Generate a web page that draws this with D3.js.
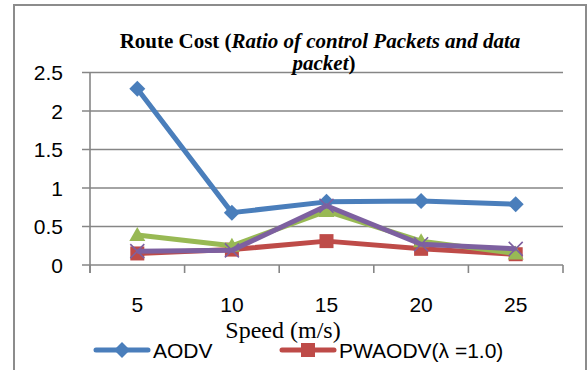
<!DOCTYPE html>
<html>
<head>
<meta charset="utf-8">
<script src="https://cdn.jsdelivr.net/npm/d3@7"></script>
<style>
  html, body { margin: 0; padding: 0; background: #fff; }
  svg { display: block; }
</style>
</head>
<body>
<svg id="chart" width="587" height="370"></svg>
<script>
// Route cost against node speed
const speeds = ["5", "10", "15", "20", "25"];
const aodv = [2.29, 0.68, 0.82, 0.83, 0.79];
const pwaodv10 = [0.15, 0.20, 0.31, 0.21, 0.14];
const seriesGreen = [0.39, 0.25, 0.70, 0.31, 0.15];
const seriesPurple = [0.18, 0.19, 0.77, 0.27, 0.21];
const yTicks = [0, 0.5, 1, 1.5, 2, 2.5];

const series = [
  { name: "AODV", values: aodv, color: "#4A7EBB", marker: "diamond", legend: true },
  { name: "PWAODV(λ =1.0)", values: pwaodv10, color: "#BE4B48", marker: "square", legend: true },
  { name: "", values: seriesGreen, color: "#98B954", marker: "triangle", legend: false },
  { name: "", values: seriesPurple, color: "#7D60A0", marker: "cross", legend: false }
];

const svg = d3.select("#chart");
const grid = "#868686";
const tickFont = "'Liberation Sans', Arial, sans-serif";
const serif = "'Liberation Serif', 'Times New Roman', serif";

// outer chart border
svg.append("rect")
  .attr("x", 14).attr("y", 5).attr("width", 572).attr("height", 380)
  .attr("fill", "#fff").attr("stroke", "#8c8c8c").attr("stroke-width", 2);

const x = d3.scaleBand().domain(speeds).range([90, 563]);
const y = d3.scaleLinear().domain([0, 2.5]).range([265, 72.5]);

// horizontal gridlines with outside tick stubs
svg.append("g").selectAll("line").data(yTicks).join("line")
  .attr("x1", 82).attr("x2", 563)
  .attr("y1", d => y(d)).attr("y2", d => y(d))
  .attr("stroke", grid).attr("stroke-width", 1.6);

// y axis line
svg.append("line")
  .attr("x1", 90).attr("x2", 90).attr("y1", y(2.5)).attr("y2", 273)
  .attr("stroke", grid).attr("stroke-width", 1.6);

// category boundary ticks
const boundaries = speeds.map(s => x(s)).concat([x.range()[1]]);
svg.append("g").selectAll("line").data(boundaries).join("line")
  .attr("x1", d => d).attr("x2", d => d)
  .attr("y1", y(0)).attr("y2", 273)
  .attr("stroke", grid).attr("stroke-width", 1.6);

// y tick labels
svg.append("g").selectAll("text").data(yTicks).join("text")
  .attr("x", 63).attr("y", d => y(d))
  .attr("dy", "0.36em")
  .attr("text-anchor", "end")
  .attr("font-family", tickFont).attr("font-size", 21)
  .attr("fill", "#000")
  .text(d => d);

// x tick labels
svg.append("g").selectAll("text").data(speeds).join("text")
  .attr("x", d => x(d) + x.bandwidth() / 2).attr("y", 304)
  .attr("dy", "0.36em")
  .attr("text-anchor", "middle")
  .attr("font-family", tickFont).attr("font-size", 21)
  .attr("fill", "#000")
  .text(d => d);

// marker shapes
function drawMarker(g, type, cx, cy, color) {
  if (type === "diamond") {
    g.append("path")
      .attr("d", `M${cx},${cy - 8}L${cx + 8},${cy}L${cx},${cy + 8}L${cx - 8},${cy}Z`)
      .attr("fill", color);
  } else if (type === "square") {
    g.append("rect")
      .attr("x", cx - 7).attr("y", cy - 7).attr("width", 14).attr("height", 14)
      .attr("fill", color);
  } else if (type === "triangle") {
    g.append("path")
      .attr("d", `M${cx},${cy - 8}L${cx + 8},${cy + 6}L${cx - 8},${cy + 6}Z`)
      .attr("fill", color);
  } else if (type === "cross") {
    g.append("path")
      .attr("d", `M${cx - 7},${cy - 7}L${cx + 7},${cy + 7}M${cx + 7},${cy - 7}L${cx - 7},${cy + 7}`)
      .attr("stroke", color).attr("stroke-width", 1.6).attr("fill", "none");
  }
}

const line = d3.line()
  .x((d, i) => x(speeds[i]) + x.bandwidth() / 2)
  .y(d => y(d));

series.forEach(s => {
  const g = svg.append("g");
  g.append("path")
    .datum(s.values)
    .attr("d", line)
    .attr("fill", "none")
    .attr("stroke", s.color)
    .attr("stroke-width", 5)
    .attr("stroke-linejoin", "round");
  s.values.forEach((v, i) => {
    drawMarker(g, s.marker, x(speeds[i]) + x.bandwidth() / 2, y(v), s.color);
  });
});

// title
const title = svg.append("text")
  .attr("x", 320).attr("y", 48)
  .attr("text-anchor", "middle")
  .attr("font-family", serif)
  .attr("font-size", 21).attr("font-weight", "bold").attr("fill", "#000");
title.append("tspan").text("Route Cost (");
title.append("tspan").attr("font-style", "italic").text("Ratio of control Packets and data");

const title2 = svg.append("text")
  .attr("x", 324).attr("y", 70)
  .attr("text-anchor", "middle")
  .attr("font-family", serif)
  .attr("font-size", 21).attr("font-weight", "bold").attr("fill", "#000");
title2.append("tspan").attr("font-style", "italic").text("packet");
title2.append("tspan").text(")");

// legend
const legendItems = series.filter(s => s.legend);
const legendX = [96, 282];
legendItems.forEach((s, i) => {
  const g = svg.append("g");
  const lx = legendX[i];
  g.append("line")
    .attr("x1", lx).attr("x2", lx + 52).attr("y1", 350).attr("y2", 350)
    .attr("stroke", s.color).attr("stroke-width", 5).attr("stroke-linecap", "round");
  drawMarker(g, s.marker, lx + 26, 350, s.color);
  g.append("text")
    .attr("x", lx + 57).attr("y", 350).attr("dy", "0.36em")
    .attr("font-family", tickFont).attr("font-size", 21).attr("fill", "#000")
    .text(s.name);
});

// axis title
svg.append("text")
  .attr("x", 283).attr("y", 330).attr("dy", "0.35em")
  .attr("text-anchor", "middle")
  .attr("font-family", serif)
  .attr("font-size", 24).attr("fill", "#000")
  .text("Speed (m/s)");
</script>
</body>
</html>
